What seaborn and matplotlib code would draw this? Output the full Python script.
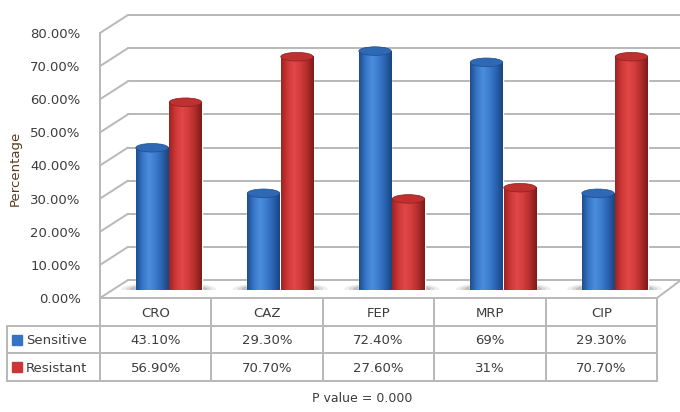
import numpy as np
import pandas as pd
import matplotlib
matplotlib.use("Agg")
import matplotlib.pyplot as plt
import seaborn as sns
from matplotlib.patches import Ellipse
from matplotlib.lines import Line2D
from matplotlib.colors import LinearSegmentedColormap

# ---------------- data ----------------
drugs = ["CRO", "CAZ", "FEP", "MRP", "CIP"]
series = ["Sensitive", "Resistant"]
sensitive = [43.10, 29.30, 72.40, 69.0, 29.30]
resistant = [56.90, 70.70, 27.60, 31.0, 70.70]
sensitive_labels = ["43.10%", "29.30%", "72.40%", "69%", "29.30%"]
resistant_labels = ["56.90%", "70.70%", "27.60%", "31%", "70.70%"]
yticks = [0, 10, 20, 30, 40, 50, 60, 70, 80]
ytick_labels = ["0.00%", "10.00%", "20.00%", "30.00%", "40.00%",
                "50.00%", "60.00%", "70.00%", "80.00%"]
ylabel = "Percentage"
footnote = "P value = 0.000"

df = pd.DataFrame({
    "drug": drugs * 2,
    "series": [series[0]] * len(drugs) + [series[1]] * len(drugs),
    "value": sensitive + resistant,
})

# ---------------- style ----------------
sns.set_style("white")
plt.rcParams["font.family"] = ["DejaVu Sans"]
TXT = "#3C3C3C"
GRID = "#B8B8B8"
BLUE = "#3574C4"
RED = "#CC3535"

W, H = 680, 412
fig = plt.figure(figsize=(W / 100, H / 100), dpi=100)


def px_axes(left, top, right, bottom):
    return fig.add_axes([left / W, 1 - bottom / H, (right - left) / W, (bottom - top) / H])


def to_fig(ax_transform, pt):
    return fig.transFigure.inverted().transform(ax_transform.transform(pt))


# back wall
ax_bg = px_axes(128, 15, 681, 280)
ax_bg.set_xlim(0, 1)
ax_bg.set_ylim(0, 80)
for v in yticks:
    ax_bg.axhline(v, color=GRID, lw=1.4, clip_on=False)
ax_bg.set_axis_off()

# front value axis (tick labels)
ax_front = px_axes(100, 33, 657, 298)
ax_front.set_facecolor("none")
ax_front.set_ylim(0, 80)
ax_front.set_xlim(0, 1)
ax_front.set_yticks(yticks)
ax_front.set_yticklabels(ytick_labels, fontsize=9.5, color=TXT)
ax_front.set_xticks([])
ax_front.tick_params(axis="y", length=0, pad=14)
for s in ["top", "right", "bottom"]:
    ax_front.spines[s].set_visible(False)
ax_front.spines["left"].set_color(GRID)
ax_front.spines["left"].set_linewidth(1.4)

# side wall diagonals + floor outline
for v in yticks:
    p1 = to_fig(ax_front.get_yaxis_transform(), (0, v))
    p2 = to_fig(ax_bg.get_yaxis_transform(), (0, v))
    fig.add_artist(Line2D([p1[0], p2[0]], [p1[1], p2[1]], color=GRID, lw=1.4))
p1 = to_fig(ax_front.get_yaxis_transform(), (1, 0))
p2 = to_fig(ax_bg.get_yaxis_transform(), (1, 0))
fig.add_artist(Line2D([p1[0], p2[0]], [p1[1], p2[1]], color=GRID, lw=1.4))

# bars (mid depth plane)
ax_bar = px_axes(113, 26, 670.5, 290)
ax_bar.set_facecolor("none")
sns.barplot(data=df, x="drug", y="value", hue="series", order=drugs,
            hue_order=series, palette=[BLUE, RED], width=0.6, gap=0.03,
            saturation=1, legend=False, ax=ax_bar, zorder=3)
ax_bar.set_xlim(-0.5, len(drugs) - 0.5)
ax_bar.set_ylim(0, 80)
ax_bar.set_autoscale_on(False)

cmaps = {
    BLUE: LinearSegmentedColormap.from_list(
        "b", ["#1F4E8E", "#3677C8", "#4C8EDC", "#3A7BCD", "#2A62AE", "#1A4580"]),
    RED: LinearSegmentedColormap.from_list(
        "r", ["#9E2424", "#CF3838", "#E04848", "#D23C3C", "#B02C2C", "#7E1B1B"]),
}
caps = {BLUE: "#2F69B5", RED: "#BF3030"}
grad = np.linspace(0, 1, 64).reshape(1, -1)
cap_h = 2.6
for i, patch in enumerate(ax_bar.patches):
    col = BLUE if i < len(drugs) else RED
    x0 = patch.get_x()
    w = patch.get_width()
    h = patch.get_height()
    cx = x0 + w / 2
    # soft floor shadow
    for k, a in [(1.9, 0.10), (1.6, 0.14), (1.35, 0.2)]:
        ax_bar.add_patch(Ellipse((cx, 0.3), w * k, cap_h * 0.9 * k / 1.35,
                                 facecolor="#606060", alpha=a, lw=0, zorder=1))
    # rounded bottom
    ax_bar.add_patch(Ellipse((cx, 0), w, cap_h, facecolor=cmaps[col](0.35),
                             lw=0, zorder=3.5))
    ax_bar.imshow(grad, extent=[x0, x0 + w, 0, h], aspect="auto",
                  cmap=cmaps[col], zorder=4, interpolation="bilinear")
    ax_bar.add_patch(Ellipse((cx, h), w, cap_h, facecolor=caps[col],
                             edgecolor=cmaps[col](0.95), lw=0.5, zorder=5))
ax_bar.set_xlim(-0.5, len(drugs) - 0.5)
ax_bar.set_ylim(0, 80)
ax_bar.set_axis_off()

# data table
ax_tab = px_axes(7, 298, 657, 381)
lab_w = 93 / 111.4
ax_tab.set_xlim(-lab_w, len(drugs))
ax_tab.set_ylim(3, 0)
ax_tab.set_axis_off()
lkw = dict(color=GRID, lw=1.4, clip_on=False)
for i in range(len(drugs) + 1):
    ax_tab.plot([i, i], [0, 3], **lkw)
ax_tab.plot([-lab_w, -lab_w], [1, 3], **lkw)
ax_tab.plot([0, len(drugs)], [0, 0], **lkw)
for r in [1, 2, 3]:
    ax_tab.plot([-lab_w, len(drugs)], [r, r], **lkw)
for i, d in enumerate(drugs):
    ax_tab.text(i + 0.5, 0.55, d, ha="center", va="center", fontsize=9.5, color=TXT)
    ax_tab.text(i + 0.5, 1.55, sensitive_labels[i], ha="center", va="center",
                fontsize=9.5, color=TXT)
    ax_tab.text(i + 0.5, 2.55, resistant_labels[i], ha="center", va="center",
                fontsize=9.5, color=TXT)
for r, (name, col) in enumerate(zip(series, [BLUE, RED])):
    ax_tab.plot([-lab_w + 10 / 111.4], [r + 1.5], marker="s", markersize=7,
                color=col, clip_on=False)
    ax_tab.text(-lab_w + 19 / 111.4, r + 1.55, name, ha="left", va="center",
                fontsize=9.5, color=TXT)

fig.text(15 / W, 1 - 168 / H, ylabel, rotation=90, ha="center", va="center",
         fontsize=9.5, color="#5A3A1E")
fig.text(362 / W, 1 - 398 / H, footnote, ha="center", va="center",
         fontsize=9, color=TXT)

fig.savefig("out.png", dpi=100)
